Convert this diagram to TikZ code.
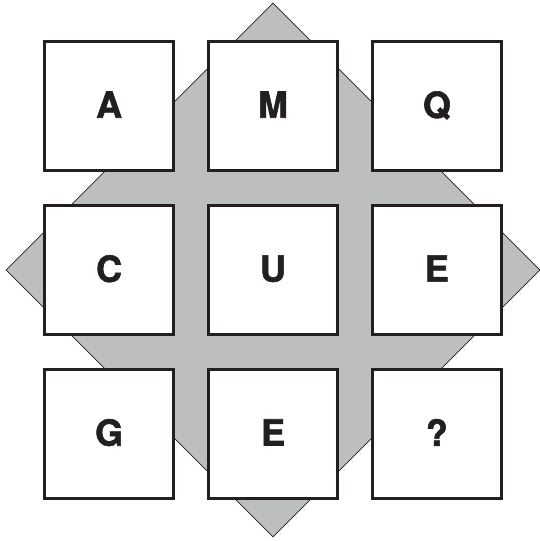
\documentclass[tikz,border=0pt]{standalone}
\usepackage{fontspec}
\setmainfont{TeX Gyre Heros}[BoldFeatures={FakeBold=1.6}]
\usepackage{tikz}
\usetikzlibrary{shapes.geometric, positioning}

\definecolor{boardgray}{HTML}{BCBEC0}
\definecolor{inkdark}{HTML}{231F20}

\begin{document}
\begin{tikzpicture}[x=1pt, y=-1pt, node distance=32.5pt,
    tile/.style={draw=inkdark, line width=2.4pt, fill=white, minimum size=129pt, inner sep=0pt, outer sep=1.2pt,
        font=\fontsize{36}{36}\selectfont\bfseries, text=inkdark},
    board/.style={diamond, draw=inkdark, line width=0.6pt, fill=boardgray, aspect=1, inner sep=0pt, minimum size=534pt}]
    \useasboundingbox (0,0) rectangle (539,541);
    \node[board] (back) at (273,270) {};

    \node[tile] (u) at (273,270) {\raisebox{3pt}{U}};
    \node[tile, above=of u] (m) {\raisebox{3pt}{M}};
    \node[tile, below=of u] (e2) {\raisebox{3pt}{E}};
    \node[tile, left=of u] (c) {\raisebox{3pt}{C}};
    \node[tile, right=of u] (e1) {\raisebox{3pt}{E}};
    \node[tile, left=of m] (a) {\raisebox{3pt}{A}};
    \node[tile, right=of m] (q) {\raisebox{3pt}{Q}};
    \node[tile, left=of e2] (g) {\raisebox{3pt}{G}};
    \node[tile, right=of e2] (ask) {\raisebox{3pt}{?}};
\end{tikzpicture}
\end{document}
